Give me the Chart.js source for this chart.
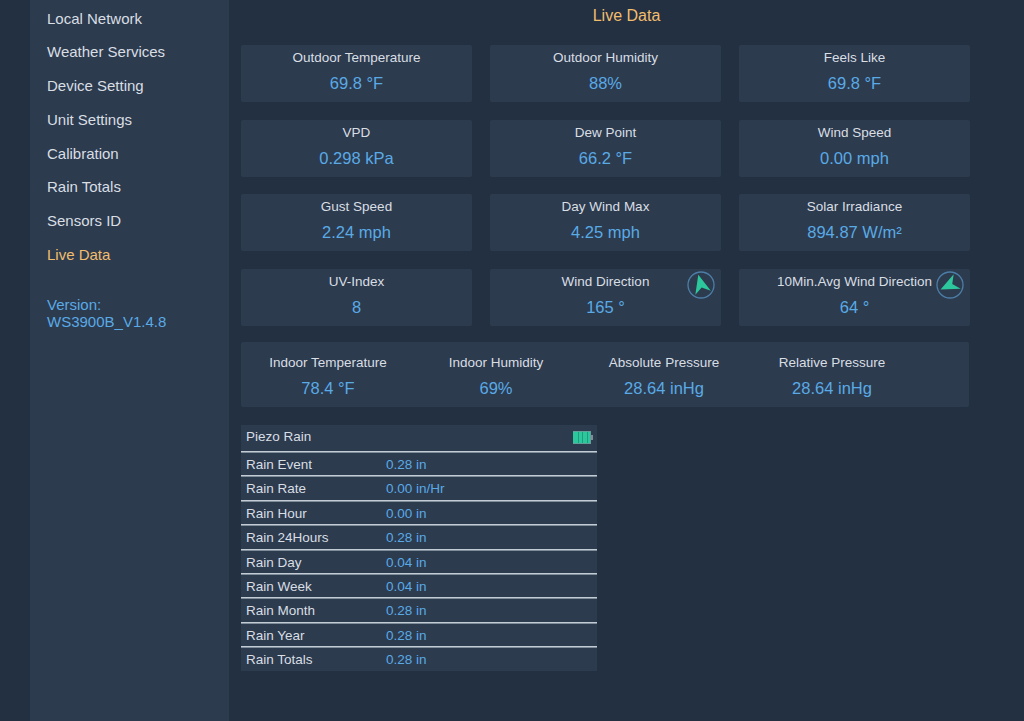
<!DOCTYPE html>
<html>
<head>
<meta charset="utf-8">
<script src="https://cdn.jsdelivr.net/npm/chart.js@4.4.1/dist/chart.umd.min.js"></script>
<style>
  html, body { margin: 0; padding: 0; }
  body {
    width: 1024px; height: 721px; overflow: hidden;
    background: #223041;
    font-family: 'Liberation Sans', Arial, sans-serif;
    color: #d9dee4;
    position: relative;
  }
  #sidebar {
    position: absolute; left: 30px; top: 0; width: 199px; height: 721px;
    background: #2c3b4e;
  }
  #sidebar .item {
    position: absolute; left: 17px; height: 20px; line-height: 20px; font-size: 15px; white-space: nowrap;
  }
  #sidebar .item.active { color: #f2bd6d; }
  #sidebar .version {
    position: absolute; left: 17px; top: 296px; font-size: 15px; line-height: 17px; color: #5aaae6;
  }
  #main { position: absolute; left: 229px; top: 0; width: 795px; height: 721px; }
  #title {
    position: absolute; left: 0; width: 795px; top: 6px; line-height: 20px;
    text-align: center; font-size: 16px; color: #f2bd6d;
  }
  #cards {
    position: absolute; left: 12px; top: 45px;
    display: grid; grid-template-columns: repeat(3, 231px);
    grid-auto-rows: 57px; column-gap: 18px; row-gap: 17.5px;
  }
  .card { background: #2c3b4e; border-radius: 2px; position: relative; text-align: center; }
  .card .lbl { position: absolute; left: 0; right: 0; top: 5px; line-height: 16px; font-size: 13.5px; }
  .card .val { position: absolute; left: 0; right: 0; top: 28px; line-height: 20px; font-size: 16.5px; color: #5aaae6; }
  .card canvas { position: absolute; right: 4px; top: 0px; }
  #indoor {
    position: absolute; left: 12px; top: 342px; width: 728px; height: 65px;
    background: #2c3b4e; border-radius: 2px; display: flex; padding-left: 3px; box-sizing: border-box;
  }
  #indoor .col { width: 168px; text-align: center; position: relative; }
  #indoor .lbl { position: absolute; left: 0; right: 0; top: 13px; line-height: 16px; font-size: 13.5px; }
  #indoor .val { position: absolute; left: 0; right: 0; top: 36px; line-height: 20px; font-size: 16.5px; color: #5aaae6; }
  #rain {
    position: absolute; left: 12px; top: 425px; width: 356px;
    background: #2c3b4e; font-size: 13.5px;
  }
  #rain .head { height: 26px; line-height: 24px; padding-left: 5px; position: relative; }
  #rain .head canvas { position: absolute; right: 4px; top: 6px; }
  #rain .row {
    height: 23.4px; line-height: 25px; padding-left: 5px;
    border-top: 1px solid #c3ccd5; box-shadow: inset 0 1px 0 #7f8c99;
    display: flex;
  }
  #rain .row .lbl { width: 140px; }
  #rain .row .val { color: #5aaae6; }
</style>
</head>
<body>
<div id="sidebar">
  <div id="nav"></div>
  <div class="version" id="version"></div>
</div>
<div id="main">
  <div id="title">Live Data</div>
  <div id="cards"></div>
  <div id="indoor"></div>
  <div id="rain"></div>
</div>
<script>
// --- data ---
const navItems = ['Local Network', 'Weather Services', 'Device Setting', 'Unit Settings',
  'Calibration', 'Rain Totals', 'Sensors ID', 'Live Data'];
const activeItem = 'Live Data';
const versionLines = ['Version:', 'WS3900B_V1.4.8'];

const cardLabels = ['Outdoor Temperature', 'Outdoor Humidity', 'Feels Like',
  'VPD', 'Dew Point', 'Wind Speed',
  'Gust Speed', 'Day Wind Max', 'Solar Irradiance',
  'UV-Index', 'Wind Direction', '10Min.Avg Wind Direction'];
const cardValues = ['69.8 °F', '88%', '69.8 °F',
  '0.298 kPa', '66.2 °F', '0.00 mph',
  '2.24 mph', '4.25 mph', '894.87 W/m²',
  '8', '165 °', '64 °'];
// wind direction in degrees, per card (null = no compass)
const windDegrees = [null, null, null, null, null, null, null, null, null, null, 165, 64];

const indoorLabels = ['Indoor Temperature', 'Indoor Humidity', 'Absolute Pressure', 'Relative Pressure'];
const indoorValues = ['78.4 °F', '69%', '28.64 inHg', '28.64 inHg'];

const rainTitle = 'Piezo Rain';
const rainLabels = ['Rain Event', 'Rain Rate', 'Rain Hour', 'Rain 24Hours', 'Rain Day',
  'Rain Week', 'Rain Month', 'Rain Year', 'Rain Totals'];
const rainValues = ['0.28 in', '0.00 in/Hr', '0.00 in', '0.28 in', '0.04 in',
  '0.04 in', '0.28 in', '0.28 in', '0.28 in'];
const batteryLevel = [4]; // bars out of 4

// --- sidebar ---
const nav = document.getElementById('nav');
navItems.forEach((t, i) => {
  const d = document.createElement('div');
  d.className = 'item' + (t === activeItem ? ' active' : '');
  d.style.top = Math.round(8.5 + i * 33.75) + 'px';
  d.textContent = t;
  nav.appendChild(d);
});
document.getElementById('version').innerHTML = versionLines.join('<br>');

// compass: circle + arrow drawn around the single data point
const compassPlugin = {
  id: 'compass',
  afterDatasetsDraw(chart) {
    const pt = chart.getDatasetMeta(0).data[0];
    const deg = chart.data.datasets[0].data[0].deg;
    const { ctx } = chart;
    ctx.save();
    ctx.strokeStyle = '#4d7ea8';
    ctx.lineWidth = 1.3;
    ctx.beginPath();
    ctx.arc(pt.x, pt.y, 13, 0, Math.PI * 2);
    ctx.stroke();
    ctx.translate(pt.x, pt.y);
    ctx.rotate((deg + 180) * Math.PI / 180);
    ctx.fillStyle = '#2cc79c';
    ctx.beginPath();
    ctx.moveTo(0, -10.5);
    ctx.lineTo(8, 8);
    ctx.lineTo(0, 2.5);
    ctx.lineTo(-8, 8);
    ctx.closePath();
    ctx.fill();
    ctx.restore();
  }
};

function compass(canvas, deg) {
  new Chart(canvas.getContext('2d'), {
    type: 'scatter',
    data: { datasets: [{ data: [{ x: 0, y: 0, deg }], pointRadius: 0 }] },
    options: {
      responsive: false, animation: false, events: [],
      plugins: { legend: { display: false }, tooltip: { enabled: false } },
      scales: {
        x: { type: 'linear', display: false, min: -1, max: 1 },
        y: { type: 'linear', display: false, min: -1, max: 1 }
      }
    },
    plugins: [compassPlugin]
  });
}

// --- cards ---
const cards = document.getElementById('cards');
cardLabels.forEach((lbl, i) => {
  const c = document.createElement('div');
  c.className = 'card';
  c.innerHTML = `<div class="lbl">${lbl}</div><div class="val">${cardValues[i]}</div>`;
  cards.appendChild(c);
  if (windDegrees[i] != null) {
    const cv = document.createElement('canvas');
    cv.width = 32; cv.height = 32;
    cv.style.width = '32px'; cv.style.height = '32px';
    c.appendChild(cv);
    compass(cv, windDegrees[i]);
  }
});

// --- indoor ---
const indoor = document.getElementById('indoor');
indoorLabels.forEach((lbl, i) => {
  const d = document.createElement('div');
  d.className = 'col';
  d.innerHTML = `<div class="lbl">${lbl}</div><div class="val">${indoorValues[i]}</div>`;
  indoor.appendChild(d);
});

// --- rain table ---
const rain = document.getElementById('rain');
const head = document.createElement('div');
head.className = 'head';
head.textContent = rainTitle;
const bat = document.createElement('canvas');
bat.width = 20; bat.height = 13;
bat.style.width = '20px'; bat.style.height = '13px';
head.appendChild(bat);
rain.appendChild(head);
rainLabels.forEach((lbl, i) => {
  const r = document.createElement('div');
  r.className = 'row';
  r.innerHTML = `<div class="lbl">${lbl}</div><div class="val">${rainValues[i]}</div>`;
  rain.appendChild(r);
});

// battery drawn as a tiny horizontal bar chart
new Chart(bat.getContext('2d'), {
  type: 'bar',
  data: {
    labels: ['b'],
    datasets: [{ data: batteryLevel, backgroundColor: '#2cc79c', borderColor: '#7e8b98',
      borderWidth: 1, barPercentage: 1, categoryPercentage: 1 }]
  },
  options: {
    indexAxis: 'y', responsive: false, animation: false, events: [],
    layout: { padding: { left: 0, right: 2, top: 0, bottom: 0 } },
    plugins: { legend: { display: false }, tooltip: { enabled: false } },
    scales: {
      x: { display: false, min: 0, max: 4 },
      y: { display: false }
    }
  },
  plugins: [{
    id: 'cells',
    afterDatasetsDraw(chart) {
      const { ctx, chartArea: a } = chart;
      ctx.save();
      ctx.strokeStyle = '#1f9c7a';
      ctx.lineWidth = 1;
      const step = (a.right - a.left) / 4;
      for (let k = 1; k < 4; k++) {
        const x = Math.round(a.left + step * k) + 0.5;
        ctx.beginPath(); ctx.moveTo(x, a.top + 1); ctx.lineTo(x, a.bottom - 1); ctx.stroke();
      }
      ctx.fillStyle = '#7e8b98';
      ctx.fillRect(a.right, a.top + 4, 2, a.bottom - a.top - 8);
      ctx.restore();
    }
  }]
});
</script>
</body>
</html>
